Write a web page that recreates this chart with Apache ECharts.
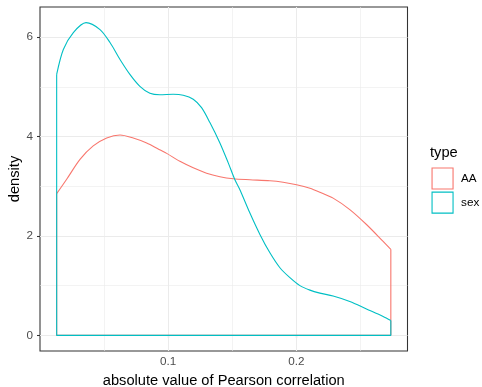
<!DOCTYPE html>
<html>
<head>
<meta charset="utf-8">
<script src="https://cdn.jsdelivr.net/npm/echarts@6/dist/echarts.min.js"></script>
<style>
  html, body { margin: 0; padding: 0; background: #fff; }
  #chart { width: 482px; height: 387px; }
</style>
</head>
<body>
<div id="chart"></div>
<script>
// Kernel density estimates of |Pearson r|, one curve per type
const aaX = [0.0130, 0.0208, 0.0312, 0.0415, 0.0520, 0.0624, 0.0727, 0.0832, 0.0922, 0.0988,
             0.1091, 0.1195, 0.1299, 0.1403, 0.1507, 0.1637, 0.1793, 0.1896, 0.2001, 0.2105,
             0.2183, 0.2286, 0.2416, 0.2546, 0.2676, 0.2736];
const aaY = [2.85, 3.14, 3.54, 3.81, 3.97, 4.03, 3.97, 3.87, 3.75, 3.66,
             3.50, 3.37, 3.26, 3.19, 3.15, 3.13, 3.11, 3.08, 3.03, 2.96,
             2.88, 2.76, 2.53, 2.23, 1.89, 1.73];

const sexX = [0.0130, 0.0182, 0.0260, 0.0359, 0.0468, 0.0546, 0.0624, 0.0701, 0.0779, 0.0857,
              0.0935, 0.1039, 0.1117, 0.1195, 0.1260, 0.1325, 0.1403, 0.1468, 0.1520, 0.1559,
              0.1637, 0.1715, 0.1793, 0.1871, 0.1949, 0.2027, 0.2105, 0.2183, 0.2286, 0.2416,
              0.2546, 0.2676, 0.2736];
const sexY = [5.25, 5.75, 6.09, 6.29, 6.15, 5.89, 5.55, 5.25, 5.01, 4.87,
              4.84, 4.85, 4.83, 4.75, 4.58, 4.28, 3.87, 3.47, 3.13, 2.93,
              2.46, 2.03, 1.66, 1.36, 1.16, 1.00, 0.91, 0.85, 0.79, 0.68,
              0.53, 0.38, 0.30];

const groups = ['AA', 'sex'];
const colors = ['#F8766D', '#00BFC4'];

// Axis breaks
const xBreaks = [0.1, 0.2];
const xMinorBreaks = [0.05, 0.15, 0.25];
const yBreaks = [0, 2, 4, 6];
const yMinorBreaks = [1, 3, 5];

const zip = (xs, ys) => xs.map((x, i) => [x, ys[i]]);

// Curve plus the closing edges (two verticals and the baseline)
function densitySeries(name, xs, ys, color) {
  const n = xs.length;
  const style = { color: color, width: 1.1 };
  return [
    {
      name: name, type: 'line', data: zip(xs, ys), smooth: 0.3,
      showSymbol: false, symbol: 'none', lineStyle: style, z: 3, silent: true
    },
    {
      name: name, type: 'line',
      data: [[xs[0], ys[0]], [xs[0], 0], [xs[n - 1], 0], [xs[n - 1], ys[n - 1]]],
      showSymbol: false, symbol: 'none', lineStyle: style, z: 3, silent: true
    }
  ];
}

const major = { color: '#EBEBEB', width: 1.07, type: 'solid' };
const minor = { color: '#EBEBEB', width: 0.6, type: 'solid' };
const gridLines = [].concat(
  xBreaks.map(v => ({ xAxis: v, lineStyle: major })),
  xMinorBreaks.map(v => ({ xAxis: v, lineStyle: minor })),
  yBreaks.map(v => ({ yAxis: v, lineStyle: major })),
  yMinorBreaks.map(v => ({ yAxis: v, lineStyle: minor }))
);

const FONT = 'Liberation Sans, Arial, sans-serif';
const chart = echarts.init(document.getElementById('chart'), null, { renderer: 'canvas' });

const option = {
  animation: false,
  backgroundColor: '#fff',
  textStyle: { fontFamily: FONT },
  grid: {
    left: 40, right: 74.5, top: 7, bottom: 36,
    outerBoundsMode: 'none', containLabel: false,
    show: true, borderColor: '#333333', borderWidth: 1.07, backgroundColor: 'transparent'
  },
  title: {
    text: 'type', left: 430, top: 145, padding: 0,
    textStyle: { fontSize: 14.67, fontWeight: 'normal', color: '#000', fontFamily: FONT }
  },
  legend: {
    orient: 'vertical', left: 431.5, top: 167.5, padding: 0,
    itemWidth: 21, itemHeight: 21, itemGap: 2,
    selectedMode: false,
    textStyle: { fontSize: 11.7, color: '#000', padding: [0, 0, 0, 3], fontFamily: FONT },
    data: groups.map((g, i) => ({
      name: g, icon: 'rect',
      itemStyle: { color: '#ffffff', borderColor: colors[i], borderWidth: 1.1 }
    }))
  },
  xAxis: {
    type: 'value', min: 0, max: 0.2866,
    name: 'absolute value of Pearson correlation',
    nameLocation: 'middle', nameGap: 22, nameMoveOverlap: false,
    nameTextStyle: { fontSize: 14.67, color: '#000' },
    axisLine: { show: false },
    axisTick: { show: true, length: 3, customValues: xBreaks, lineStyle: { color: '#333333', width: 1.07 } },
    axisLabel: { customValues: xBreaks, margin: 5, fontSize: 11.7, color: '#4D4D4D', formatter: v => String(v) },
    splitLine: { show: false }
  },
  yAxis: {
    type: 'value', min: -0.3145, max: 6.6045,
    name: 'density',
    nameLocation: 'middle', nameGap: 18, nameRotate: 90, nameMoveOverlap: false,
    nameTextStyle: { fontSize: 14.67, color: '#000' },
    axisLine: { show: false },
    axisTick: { show: true, length: 3, customValues: yBreaks, lineStyle: { color: '#333333', width: 1.07 } },
    axisLabel: { customValues: yBreaks, margin: 7, fontSize: 11.7, color: '#4D4D4D', formatter: v => String(v) },
    splitLine: { show: false }
  },
  series: [
    {
      name: 'grid', type: 'line', data: [], z: 1, silent: true,
      markLine: { silent: true, symbol: 'none', z: 1, label: { show: false }, animation: false, data: gridLines }
    }
  ].concat(
    densitySeries('AA', aaX, aaY, colors[0]),
    densitySeries('sex', sexX, sexY, colors[1])
  )
};

chart.setOption(option);
</script>
</body>
</html>
